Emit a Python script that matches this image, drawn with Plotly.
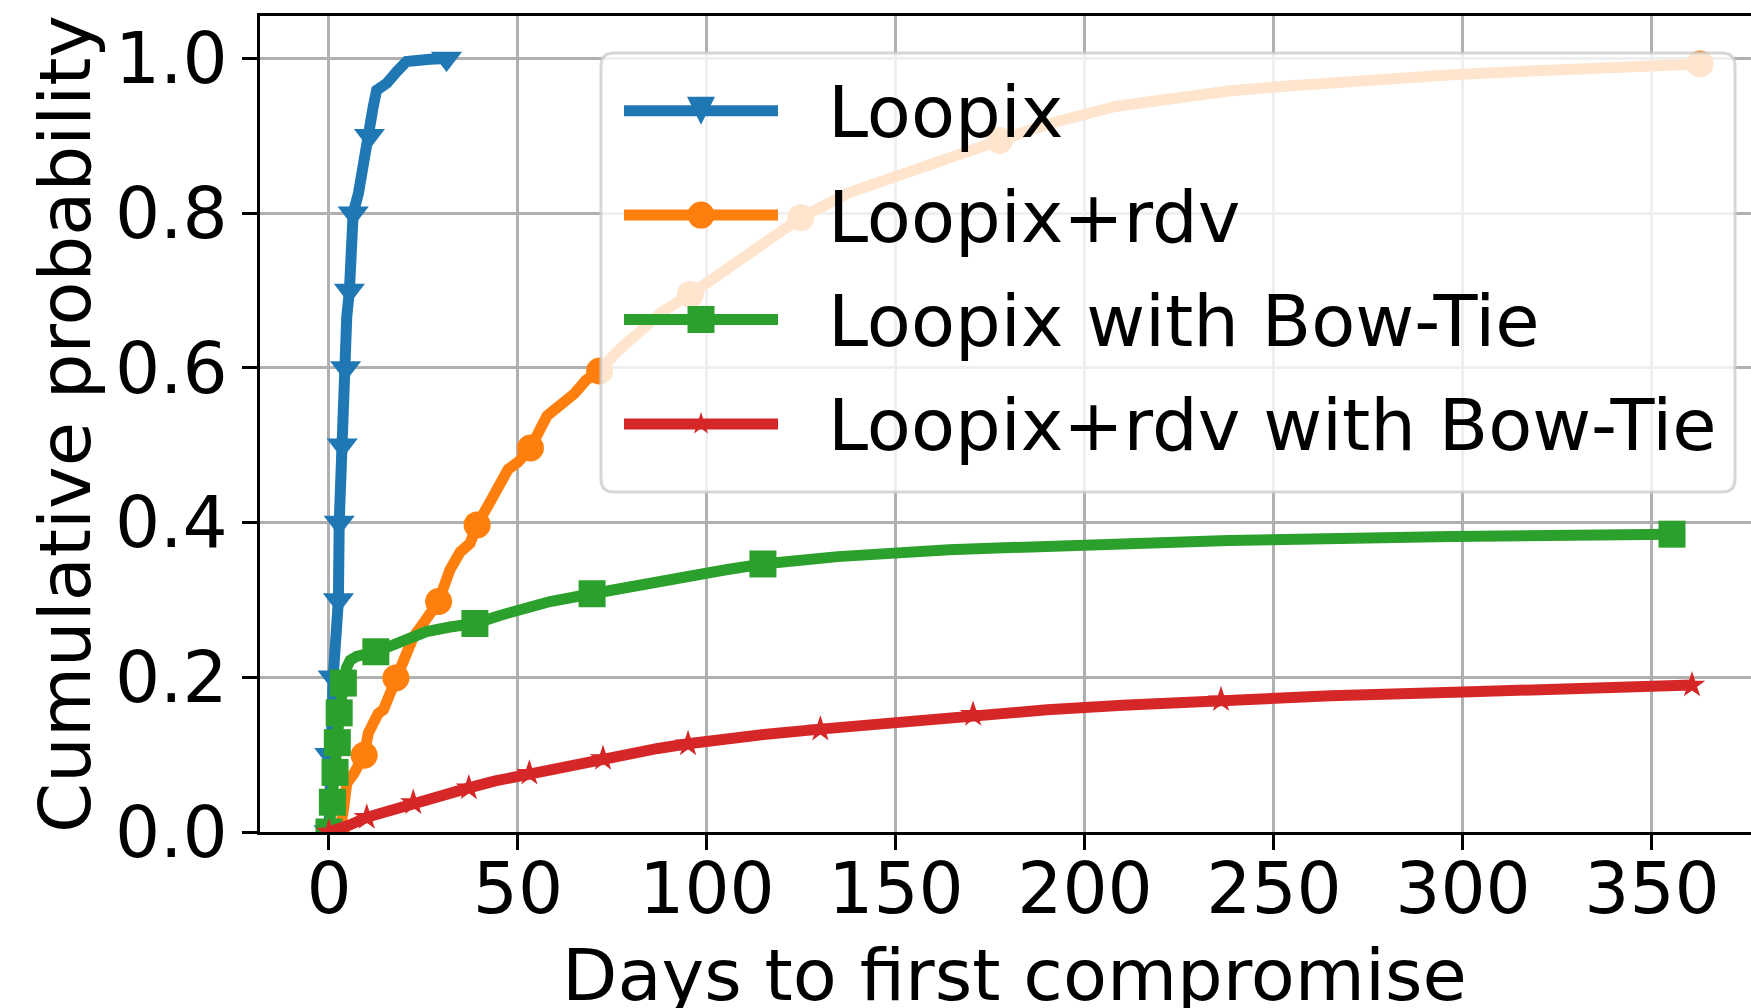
import math
import plotly.graph_objects as go

# ---- data: empirical CDFs of days until first compromise ----
loopix_days = [0.0, 0.2, 0.6, 1.1, 1.8, 2.5, 2.7, 3.0, 3.5, 4.0, 4.4, 4.7, 5.4, 5.9, 6.4,
               7.8, 9.1, 10.0, 10.7, 11.6, 12.6, 15.3, 17.9, 20.5, 26.7, 31.1]
loopix_cdf = [0.0, 0.1, 0.15, 0.2, 0.25, 0.3, 0.4, 0.45, 0.5, 0.56, 0.6, 0.666, 0.7, 0.75, 0.8,
              0.826, 0.869, 0.89, 0.9, 0.935, 0.959, 0.968, 0.983, 0.996, 0.999, 1.0]
loopix_marks = [0, 1, 3, 5, 6, 8, 10, 12, 14, 18, 25]

rdv_days = [2.0, 3.0, 3.8, 4.7, 6.5, 8.0, 9.3, 10.4, 13.0, 14.4, 16.0, 17.7, 19.5, 22.3, 25.0,
            27.0, 29.0, 32.0, 34.7, 37.3, 39.2, 43.0, 45.2, 47.4, 50.0, 53.3, 57.7, 62.1, 65.0,
            68.0, 71.6, 76.0, 82.5, 88.0, 95.6, 103.0, 112.0, 118.0, 124.8, 137.3, 145.0, 154.5,
            165.0, 177.4, 190.0, 208.0, 225.0, 238.0, 252.7, 267.5, 297.0, 309.8, 340.0, 362.7]
rdv_cdf = [0.0, 0.005, 0.028, 0.063, 0.075, 0.088, 0.0993, 0.128, 0.153, 0.158, 0.178, 0.199,
           0.222, 0.252, 0.270, 0.285, 0.298, 0.339, 0.362, 0.373, 0.397, 0.430, 0.451, 0.469,
           0.478, 0.4965, 0.538, 0.556, 0.567, 0.584, 0.596, 0.620, 0.649, 0.672, 0.695, 0.720,
           0.748, 0.772, 0.794, 0.826, 0.840, 0.855, 0.873, 0.894, 0.915, 0.938, 0.950, 0.958,
           0.964, 0.970, 0.979, 0.982, 0.988, 0.993]
rdv_marks = [0, 6, 11, 16, 20, 25, 30, 34, 38, 43, 53]

bowtie_days = [0.0, 0.9, 1.6, 2.2, 2.7, 3.8, 4.6, 5.6, 7.3, 12.4, 16.0, 21.4, 25.8, 32.0, 38.6,
               45.2, 52.0, 58.5, 69.6, 80.0, 90.2, 105.0, 114.8, 134.6, 164.0, 193.7, 238.0,
               297.0, 355.3]
bowtie_cdf = [0.0, 0.0385, 0.077, 0.1155, 0.154, 0.1925, 0.212, 0.222, 0.227, 0.233, 0.240,
              0.252, 0.259, 0.265, 0.2695, 0.280, 0.290, 0.298, 0.308, 0.318, 0.328, 0.339,
              0.3465, 0.356, 0.365, 0.371, 0.377, 0.382, 0.385]
bowtie_marks = [0, 1, 2, 3, 4, 5, 9, 14, 18, 22, 28]

rdv_bowtie_days = [0.0, 3.0, 6.0, 10.0, 14.0, 18.0, 22.3, 28.0, 32.0, 37.0, 44.0, 48.0, 53.0,
                   60.0, 66.0, 72.5, 80.0, 87.0, 95.0, 105.0, 115.0, 130.0, 145.0, 157.0, 170.4,
                   190.0, 210.0, 236.0, 265.0, 300.0, 330.0, 360.6]
rdv_bowtie_cdf = [0.0, 0.004, 0.010, 0.019, 0.025, 0.031, 0.038, 0.046, 0.051, 0.057, 0.066,
                  0.070, 0.076, 0.084, 0.089, 0.095, 0.102, 0.108, 0.114, 0.121, 0.126, 0.133,
                  0.140, 0.146, 0.152, 0.158, 0.164, 0.171, 0.176, 0.181, 0.186, 0.190]
rdv_bowtie_marks = [0, 3, 6, 9, 12, 15, 18, 21, 24, 27, 31]

series_names = ["Loopix", "Loopix+rdv", "Loopix with Bow-Tie", "Loopix+rdv with Bow-Tie"]
series_colors = ["#1f77b4", "#ff7f0e", "#2ca02c", "#d62728"]
series_symbols = ["triangle-down", "circle", "square", "star"]
series_msizes = [27, 27, 27, 20]

x_ticks = [0, 50, 100, 150, 200, 250, 300, 350]
y_ticks = [0.0, 0.2, 0.4, 0.6, 0.8, 1.0]
x_title = "Days to first compromise"
y_title = "Cumulative probability"

series = [
    (loopix_days, loopix_cdf, loopix_marks),
    (rdv_days, rdv_cdf, rdv_marks),
    (bowtie_days, bowtie_cdf, bowtie_marks),
    (rdv_bowtie_days, rdv_bowtie_cdf, rdv_bowtie_marks),
]

# ---- page geometry (pixels) ----
W, H = 1751, 1008
L, R, T, B = 260, 0, 16, 176
PW, PH = W - L - R, H - T - B
FONT = "DejaVu Sans"
FS_TICK = 71
FS_TEXT = 72
LW = 11


def px(xp):
    return (xp - L) / PW


def py(yp):
    return (H - B - yp) / PH


fig = go.Figure()

for (xs, ys, marks), name, color, sym, ms in zip(series, series_names, series_colors,
                                                 series_symbols, series_msizes):
    fig.add_trace(go.Scatter(
        x=xs, y=ys, mode="lines", name=name, showlegend=False,
        line=dict(color=color, width=LW), hoverinfo="skip"))
    fig.add_trace(go.Scatter(
        x=[xs[i] for i in marks], y=[ys[i] for i in marks], mode="markers",
        showlegend=False, hoverinfo="skip",
        marker=dict(symbol=sym, size=ms, color=color, line=dict(width=0))))

# ---- legend: translucent rounded frame with line + marker samples ----
shapes = []
bx0, bx1, by0, by1 = px(601), px(1735), py(492), py(53)
rx, ry = 13 / PW, 13 / PH
frame = (f"M{bx0+rx},{by1} L{bx1-rx},{by1} Q{bx1},{by1} {bx1},{by1-ry} "
         f"L{bx1},{by0+ry} Q{bx1},{by0} {bx1-rx},{by0} L{bx0+rx},{by0} "
         f"Q{bx0},{by0} {bx0},{by0+ry} L{bx0},{by1-ry} Q{bx0},{by1} {bx0+rx},{by1} Z")
shapes.append(dict(type="path", xref="paper", yref="paper", path=frame, layer="above",
                   fillcolor="rgba(255,255,255,0.8)",
                   line=dict(color="rgba(204,204,204,0.8)", width=3)))

row_y = [110.7, 215.1, 319.5, 423.9]
line_x0, line_x1, mark_x = 624, 778, 701


def star_path(r_out, r_in):
    pts = []
    for k in range(10):
        r = r_out if k % 2 == 0 else r_in
        a = math.pi / 2 + k * math.pi / 5
        pts.append((r * math.cos(a), r * math.sin(a)))
    return "M" + " L".join(f"{x:.2f},{y:.2f}" for x, y in pts) + " Z"


annotations = []
for yrow, name, color, sym in zip(row_y, series_names, series_colors, series_symbols):
    shapes.append(dict(type="line", xref="paper", yref="paper", layer="above",
                       x0=px(line_x0), x1=px(line_x1), y0=py(yrow), y1=py(yrow),
                       line=dict(color=color, width=LW)))
    base = dict(xref="paper", yref="paper", layer="above", xsizemode="pixel",
                ysizemode="pixel", xanchor=px(mark_x), yanchor=py(yrow),
                fillcolor=color, line=dict(width=0))
    if sym == "circle":
        shapes.append(dict(base, type="circle", x0=-13.5, x1=13.5, y0=-13.5, y1=13.5))
    elif sym == "square":
        shapes.append(dict(base, type="rect", x0=-13.5, x1=13.5, y0=-13.5, y1=13.5))
    elif sym == "triangle-down":
        shapes.append(dict(base, type="path", path="M-14,14 L14,14 L0,-14 Z"))
    else:
        shapes.append(dict(base, type="path", path=star_path(12, 4.6)))
    annotations.append(dict(xref="paper", yref="paper", x=px(826), y=py(yrow + 1.5),
                            xanchor="left", yanchor="middle", showarrow=False, text=name,
                            font=dict(family=FONT, size=FS_TEXT, color="black")))

# axis titles
annotations.append(dict(xref="paper", yref="paper", x=px(1014), y=py(975),
                        xanchor="center", yanchor="middle", showarrow=False, text=x_title,
                        font=dict(family=FONT, size=FS_TEXT, color="black")))
annotations.append(dict(xref="paper", yref="paper", x=px(65), y=py(424),
                        xanchor="center", yanchor="middle", showarrow=False, text=y_title,
                        textangle=-90, font=dict(family=FONT, size=FS_TEXT, color="black")))

axis_common = dict(showgrid=True, gridcolor="#b0b0b0", gridwidth=2.5, zeroline=False,
                   showline=True, linecolor="black", linewidth=3, ticks="outside",
                   ticklen=15, tickwidth=3, tickcolor="black",
                   tickfont=dict(family=FONT, size=FS_TICK, color="black"))

fig.update_layout(
    width=W, height=H, margin=dict(l=L, r=R, t=T, b=B, pad=0),
    paper_bgcolor="white", plot_bgcolor="white",
    showlegend=False, shapes=shapes, annotations=annotations,
    xaxis=dict(axis_common, range=[-18.25, 376.2], tickvals=x_ticks,
               ticktext=[str(v) for v in x_ticks], mirror=True, ticklabelstandoff=-22),
    yaxis=dict(axis_common, range=[0, 1.0549], tickvals=y_ticks,
               ticktext=[f"{v:.1f}" for v in y_ticks], mirror=False),
)

fig.write_html("out.html")
